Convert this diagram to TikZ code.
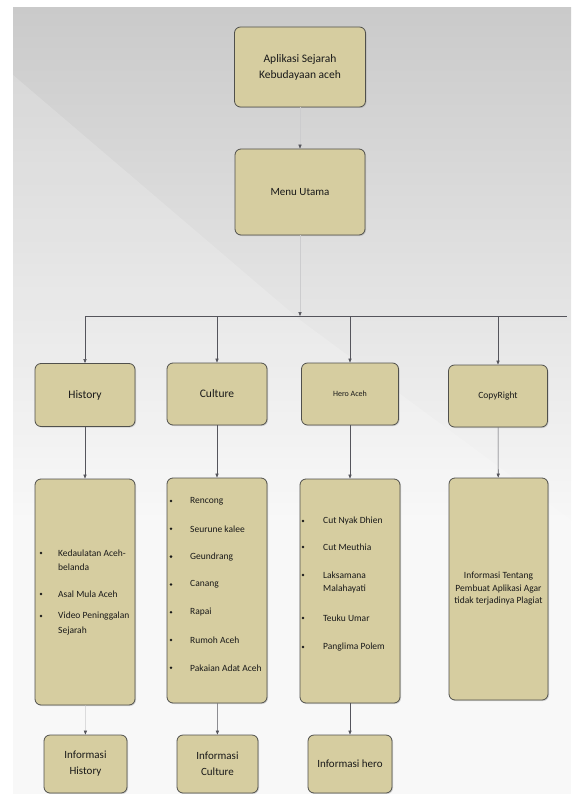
\documentclass[tikz,border=0pt]{standalone}
\usepackage{fontspec}
\setmainfont{Carlito}
\usetikzlibrary{shadows,arrows.meta}
\definecolor{boxfill}{RGB}{214,205,160}
\definecolor{boxline}{RGB}{80,80,76}
\definecolor{linecol}{RGB}{85,85,92}
\definecolor{bgtop}{RGB}{202,202,202}
\definecolor{bgbot}{RGB}{247,247,247}
\tikzset{
  box/.style={draw=boxline, line width=0.8pt, rounded corners=6pt, fill=boxfill,
    drop shadow={shadow xshift=1pt,shadow yshift=-1pt,opacity=0.3},
    align=center, inner sep=2pt, text=black!90},
  conn/.style={draw=linecol, line width=0.6pt},
  arr/.style={draw=linecol, line width=0.6pt, -{Triangle[length=4pt,width=3.2pt]}},
  faintarr/.style={draw=linecol!30, line width=0.5pt, -{Triangle[length=4pt,width=3.2pt,color=linecol]}},
  listtext/.style={anchor=west, inner sep=0pt, font=\fontsize{9.5}{11}\selectfont, text=black!90},
  bul/.style={circle, fill=black!90, inner sep=0pt, minimum size=2.8pt},
}
\begin{document}
\begin{tikzpicture}[x=1pt,y=-1pt]
\useasboundingbox (0,0) rectangle (571,794);
% background
\fill[white] (0,0) rectangle (571,794);
\shade[top color=bgtop, bottom color=bgbot] (13,8) rectangle (571,520);
\fill[bgbot] (13,520) rectangle (571,794);
\fill[white,opacity=0.18] (13,75) -- (300,320) -- (571,520) -- (571,794) -- (13,794) -- cycle;

% top boxes
\node[box, minimum width=131pt, minimum height=80pt, font=\fontsize{11.5}{16}\selectfont] (app) at (300,67) {Aplikasi Sejarah\\Kebudayaan aceh};
\node[box, minimum width=130pt, minimum height=86pt, font=\fontsize{11}{14}\selectfont] (menu) at (300,192) {Menu Utama};

% level 2
\node[box, minimum width=100pt, minimum height=63pt, font=\fontsize{11.5}{14}\selectfont] (hist) at (85,395) {History};
\node[box, minimum width=100pt, minimum height=62pt, font=\fontsize{11.5}{14}\selectfont] (cult) at (217,394) {Culture};
\node[box, minimum width=97pt, minimum height=62pt, font=\fontsize{8}{9}\selectfont] (hero) at (350,394) {Hero Aceh};
\node[box, minimum width=99pt, minimum height=62pt, font=\fontsize{9.5}{11}\selectfont] (copy) at (498,396) {CopyRight};

% lists
\node[box, minimum width=100pt, minimum height=226pt] (histl) at (85,592) {};
\node[box, minimum width=100pt, minimum height=225pt] (cultl) at (217,590.5) {};
\node[box, minimum width=100pt, minimum height=224pt] (herol) at (350,591) {};
\node[box, minimum width=99pt, minimum height=222pt, font=\fontsize{9.5}{12.5}\selectfont] (copyl) at (498.5,589) {Informasi Tentang\\Pembuat Aplikasi Agar\\tidak terjadinya Plagiat};

% bottom
\node[box, minimum width=83pt, minimum height=58pt, font=\fontsize{11}{16}\selectfont] (ihist) at (85.5,764) {Informasi\\History};
\node[box, minimum width=81pt, minimum height=58pt, font=\fontsize{11}{16}\selectfont] (icult) at (217.5,764) {Informasi\\Culture};
\node[box, minimum width=84pt, minimum height=58pt, font=\fontsize{11}{14}\selectfont] (ihero) at (350,764) {Informasi hero};

% history items
\node[bul] (hb1) at (41,553) {};
\node[listtext] (ht1) at (58,553) {Kedaulatan Aceh-};
\node[listtext] (ht1b) at (58,567) {belanda};
\node[bul] (hb2) at (41,594) {};
\node[listtext] (ht2) at (58,594) {Asal Mula Aceh};
\node[bul] (hb3) at (41,616) {};
\node[listtext] (ht3) at (58,616) {Video Peninggalan};
\node[listtext] (ht3b) at (58,631) {Sejarah};

% culture items
\foreach \t [count=\i] in {Rencong, Seurune kalee, Geundrang, Canang, Rapai, Rumoh Aceh, Pakaian Adat Aceh}{
  \node[bul] (cb\i) at (171,{501+(\i-1)*27.8}) {};
  \node[listtext] (ct\i) at (190,{501+(\i-1)*27.8}) {\t};
}

% hero items
\node[bul] (eb1) at (303,521) {};
\node[listtext] (et1) at (323,521) {Cut Nyak Dhien};
\node[bul] (eb2) at (303,547) {};
\node[listtext] (et2) at (323,547) {Cut Meuthia};
\node[bul] (eb3) at (303,575) {};
\node[listtext] (et3) at (323,575) {Laksamana};
\node[listtext] (et3b) at (323,589) {Malahayati};
\node[bul] (eb4) at (303,618) {};
\node[listtext] (et4) at (323,618) {Teuku Umar};
\node[bul] (eb5) at (303,647) {};
\node[listtext] (et5) at (323,647) {Panglima Polem};

% connectors
\coordinate (j) at (300,316);
\coordinate (jl) at (85,316);
\coordinate (jc) at (217,316);
\coordinate (jh) at (350,316);
\coordinate (jr) at (498,316);
\coordinate (jend) at (567,316);
\draw[faintarr] (app) -- (menu);
\draw[faintarr] (menu) -- (j);
\draw[conn] (jl) -- (jend);
\draw[arr] (jl) -- (hist);
\draw[arr] (jc) -- (cult);
\draw[arr] (jh) -- (hero);
\draw[arr] (jr) -- (copy);
\draw[arr] (hist) -- (histl);
\draw[arr] (cult) -- (cultl);
\draw[arr] (hero) -- (herol);
\draw[arr] (copy) -- (copyl);
\draw[faintarr] (histl) -- (ihist);
\draw[arr] (cultl) -- (icult);
\draw[arr] (herol) -- (ihero);
\end{tikzpicture}
\end{document}
